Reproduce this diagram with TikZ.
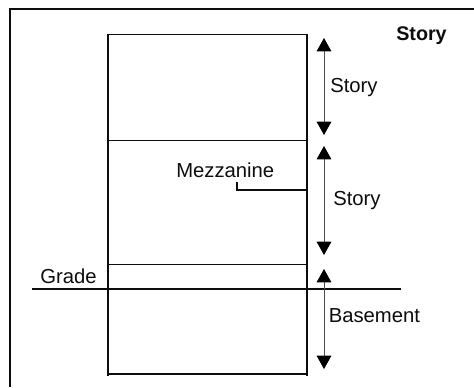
\documentclass[tikz,border=0pt]{standalone}
\usepackage{fontspec}
\setmainfont{Liberation Sans}
\usetikzlibrary{arrows.meta}
\tikzset{
  wall/.style={draw=black!95,line width=1.35pt},
  frameline/.style={draw=black!95,line width=1.5pt},
  dim/.style={draw=black!70,line width=0.7pt,{Triangle[length=10pt,width=11pt,fill=black,color=black]}-{Triangle[length=10pt,width=11pt,fill=black,color=black]}},
  lbl/.style={inner sep=0pt,anchor=base west,font=\fontsize{15.2}{18}\selectfont,text=black!95},
}
\begin{document}
\begin{tikzpicture}[x=0.75pt,y=-0.75pt]
\useasboundingbox (0,0) rectangle (474,387);
\coordinate (fTL) at (10,8.5);
\coordinate (fTR) at (474,8.5);
\coordinate (fBL) at (10,387);
\draw[frameline] (fTR) -- (fTL) -- (fBL);
% building
\coordinate (bTL) at (108,34.5);
\coordinate (bTR) at (307,34.5);
\coordinate (bBL) at (108,376);
\coordinate (bBR) at (307,376);
\draw[wall] (bBL) -- (bTL) -- (bTR) -- (bBR);
\coordinate (f1L) at (108,140.5);
\coordinate (f1R) at (307,140.5);
\coordinate (f2L) at (108,264.5);
\coordinate (f2R) at (307,264.5);
\coordinate (bsL) at (108,374);
\coordinate (bsR) at (307,374);
\draw[wall] (f1L) -- (f1R);
\draw[wall] (f2L) -- (f2R);
\draw[wall] (bsL) -- (bsR);
\coordinate (gL) at (32,289);
\coordinate (gR) at (401,289);
\draw[wall] (gL) -- (gR);
% mezzanine
\coordinate (mL) at (237,190);
\coordinate (mT) at (237,182);
\coordinate (mR) at (307,190);
\draw[wall] (mT) -- (mL) -- (mR);
% dimensions
\coordinate (a1) at (324,38);
\coordinate (a2) at (324,135);
\coordinate (a3) at (324,146);
\coordinate (a4) at (324,255);
\coordinate (a5) at (324,269);
\coordinate (a6) at (324,369);
\draw[dim] (a1) -- (a2);
\draw[dim] (a3) -- (a4);
\draw[dim] (a5) -- (a6);
% labels
\node[lbl] (t1) at (330,92.5) {Story};
\node[lbl] (t2) at (333,205) {Story};
\node[lbl] (t3) at (328.5,322) {Basement};
\node[lbl] (t4) at (176,177) {Mezzanine};
\node[lbl] (t5) at (40,283.3) {Grade};
\node[lbl,font=\fontsize{14.8}{18}\selectfont\bfseries] (t6) at (396,40.5) {Story};
\end{tikzpicture}
\end{document}
